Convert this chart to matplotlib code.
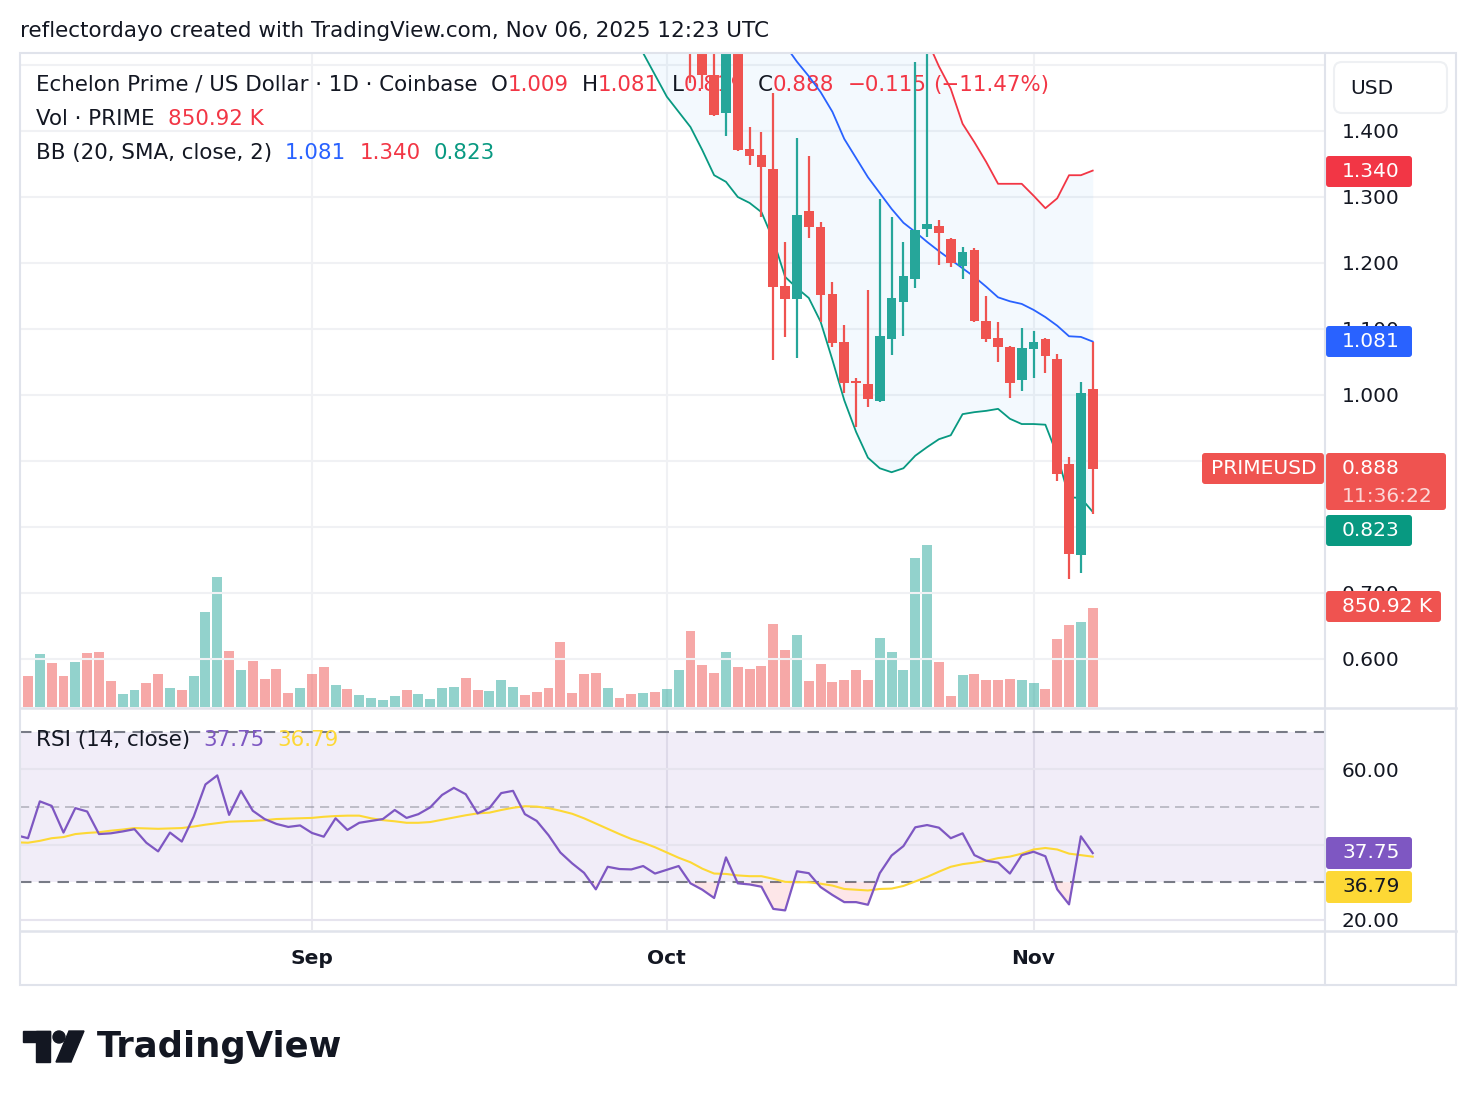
import numpy as np
import pandas as pd
import matplotlib
matplotlib.use("Agg")
import matplotlib.pyplot as plt
from matplotlib.patches import FancyBboxPatch, Rectangle, Circle, Polygon
from matplotlib.transforms import Affine2D

# ---------------- data ----------------
dates = pd.date_range("2025-08-07", "2025-11-06", freq="D")   # one bar per day
day0 = pd.Timestamp("2025-08-08")

volume_k = [275, 267, 456, 378, 267, 387, 464, 473, 224, 112, 146, 206, 284, 163, 146, 267,
            817, 1118, 482, 318, 396, 241, 327, 120, 163, 284, 344, 189, 155, 103, 77, 60,
            95, 146, 112, 69, 163, 172, 249, 146, 138, 232, 172, 103, 129, 163, 559, 120,
            284, 292, 163, 77, 112, 120, 129, 155, 318, 654, 361, 292, 473, 344, 327, 353,
            714, 490, 619, 224, 370, 215, 232, 318, 232, 593, 473, 318, 1281, 1393, 387, 95,
            275, 284, 232, 232, 241, 232, 206, 155, 585, 705, 731, 850.92]
volume_up = [1, 0, 1, 0, 0, 1, 0, 0, 0, 1, 1, 0, 0, 1, 0, 1,
             1, 1, 0, 1, 0, 0, 0, 0, 1, 0, 0, 1, 0, 1, 1, 1,
             1, 0, 1, 1, 1, 1, 0, 0, 1, 1, 1, 0, 0, 0, 0, 0,
             0, 0, 1, 0, 0, 1, 0, 1, 1, 0, 0, 0, 1, 0, 0, 0,
             0, 0, 1, 0, 0, 0, 0, 0, 0, 1, 1, 1, 1, 1, 0, 0,
             1, 0, 0, 0, 0, 1, 1, 0, 0, 0, 1, 0]

candle_start = "2025-10-03"
opens = [1.600, 1.530, 1.485, 1.427, 1.550, 1.373, 1.364, 1.342, 1.165, 1.145, 1.279, 1.255,
         1.153, 1.080, 1.021, 1.017, 0.991, 1.085, 1.141, 1.176, 1.251, 1.256, 1.236, 1.195,
         1.220, 1.112, 1.086, 1.073, 1.023, 1.070, 1.085, 1.055, 0.895, 0.758, 1.009]
highs = [1.640, 1.550, 1.530, 1.570, 1.560, 1.406, 1.398, 1.458, 1.232, 1.389, 1.362, 1.262,
         1.171, 1.106, 1.026, 1.159, 1.297, 1.270, 1.232, 1.505, 1.560, 1.265, 1.238, 1.224,
         1.222, 1.150, 1.111, 1.074, 1.102, 1.097, 1.086, 1.062, 0.906, 1.020, 1.081]
lows = [1.473, 1.464, 1.422, 1.392, 1.369, 1.348, 1.270, 1.053, 1.088, 1.056, 1.238, 1.111,
        1.073, 1.003, 0.952, 0.982, 0.989, 1.061, 1.089, 1.162, 1.239, 1.197, 1.194, 1.176,
        1.110, 1.080, 1.050, 0.995, 1.006, 1.026, 1.033, 0.870, 0.721, 0.730, 0.819]
closes = [1.530, 1.485, 1.424, 1.550, 1.371, 1.362, 1.345, 1.164, 1.145, 1.273, 1.255, 1.152,
          1.079, 1.018, 1.018, 0.994, 1.089, 1.147, 1.180, 1.250, 1.259, 1.245, 1.200, 1.217,
          1.112, 1.085, 1.073, 1.018, 1.071, 1.080, 1.059, 0.880, 0.759, 1.003, 0.888]

bb_start = "2025-09-28"
bb_upper = [2.06, 2.04, 2.02, 2.00, 1.98, 1.96, 1.94, 1.92, 1.90, 1.88, 1.86, 1.84, 1.82, 1.80,
            1.78, 1.76, 1.74, 1.72, 1.70, 1.68, 1.66, 1.64, 1.62, 1.60, 1.565, 1.538, 1.498,
            1.464, 1.411, 1.383, 1.353, 1.320, 1.320, 1.320, 1.302, 1.283, 1.298, 1.333, 1.333, 1.340]
bb_basis = [1.80, 1.78, 1.76, 1.74, 1.72, 1.70, 1.68, 1.66, 1.64, 1.62, 1.60, 1.58, 1.555, 1.530,
            1.505, 1.483, 1.459, 1.429, 1.388, 1.359, 1.330, 1.306, 1.282, 1.261, 1.247, 1.232,
            1.218, 1.205, 1.192, 1.179, 1.164, 1.148, 1.142, 1.138, 1.129, 1.118, 1.105, 1.089,
            1.088, 1.081]
bb_lower = [1.550, 1.518, 1.485, 1.452, 1.429, 1.406, 1.371, 1.333, 1.323, 1.300, 1.291, 1.277,
            1.235, 1.179, 1.162, 1.147, 1.111, 1.053, 0.992, 0.944, 0.905, 0.889, 0.883, 0.889,
            0.908, 0.921, 0.933, 0.939, 0.971, 0.974, 0.976, 0.979, 0.964, 0.956, 0.956, 0.955,
            0.909, 0.845, 0.844, 0.823]

rsi = [42.5, 41.7, 51.5, 50.3, 43.2, 49.7, 48.8, 42.8, 43.0, 43.5, 44.1, 40.5, 38.2, 43.2, 40.8,
       47.4, 56.0, 58.4, 47.9, 54.3, 49.0, 46.8, 45.5, 44.7, 45.1, 43.1, 42.1, 47.0, 43.9, 45.8,
       46.3, 46.8, 49.2, 47.1, 48.1, 49.9, 53.2, 55.1, 53.4, 48.3, 49.7, 53.7, 54.3, 48.1, 46.3,
       42.5, 37.9, 35.0, 32.5, 28.1, 34.1, 33.5, 33.4, 34.3, 32.3, 33.3, 34.3, 29.7, 28.0, 25.8,
       36.6, 29.7, 29.4, 28.8, 22.9, 22.5, 32.9, 32.4, 28.7, 26.6, 24.7, 24.7, 24.0, 32.4, 37.1,
       39.6, 44.6, 45.2, 44.5, 41.7, 43.0, 37.2, 35.7, 35.2, 32.3, 37.2, 38.1, 36.9, 28.1, 24.1,
       42.2, 37.75]
rsi_ma = [40.6, 40.5, 41.0, 41.7, 42.0, 42.8, 43.1, 43.3, 43.7, 44.0, 44.4, 44.3, 44.2, 44.3,
          44.4, 44.8, 45.3, 45.7, 46.1, 46.2, 46.3, 46.5, 46.8, 46.9, 47.0, 47.1, 47.4, 47.6,
          47.7, 47.7, 47.0, 46.5, 46.2, 45.8, 45.8, 46.0, 46.6, 47.2, 47.8, 48.3, 48.5, 49.2,
          49.8, 50.2, 50.1, 49.7, 49.0, 48.2, 47.0, 45.6, 44.2, 42.8, 41.5, 40.5, 39.3, 37.9,
          36.5, 35.3, 33.6, 32.3, 32.2, 31.8, 31.6, 31.6, 30.9, 30.1, 30.0, 30.0, 29.6, 29.1,
          28.2, 28.0, 27.8, 28.2, 28.3, 29.0, 30.2, 31.4, 32.8, 34.1, 34.8, 35.2, 35.7, 36.4,
          36.8, 37.6, 38.7, 39.1, 38.7, 37.6, 37.2, 36.79]

price_ticks = [0.6, 0.7, 1.0, 1.1, 1.2, 1.3, 1.4]      # 0.800 / 0.900 hidden under tags
grid_prices = [0.6, 0.7, 0.8, 0.9, 1.0, 1.1, 1.2, 1.3, 1.4, 1.5]
rsi_ticks = [20, 60]                                     # 40.00 hidden under tags
rsi_grid = [20, 40, 60]
month_ticks = ["2025-09-01", "2025-10-01", "2025-11-01"]
month_labels = ["Sep", "Oct", "Nov"]
countdown = "11:36:22"
title = "reflectordayo created with TradingView.com, Nov 06, 2025 12:23 UTC"

# ---------------- derived ----------------
def dayx(d):
    return (pd.Timestamp(d) - day0).days

x_all = np.array([(d - day0).days for d in dates])
xc = dayx(candle_start) + np.arange(len(opens))
xb = dayx(bb_start) + np.arange(len(bb_lower))
o, h, l, c = map(np.array, (opens, highs, lows, closes))
rsi_a = np.array(rsi)
rsi_ma_a = np.array(rsi_ma)

# ---------------- layout ----------------
W, H = 1476, 1106
fig = plt.figure(figsize=(W / 100, H / 100), dpi=100)
fig.patch.set_facecolor("white")
FONT = "DejaVu Sans"
plt.rcParams["font.family"] = FONT

def rect(lft, top, rgt, bot):
    return [lft / W, 1 - bot / H, (rgt - lft) / W, (bot - top) / H]

PANE_L, PANE_R = 20, 1325
PRICE_T, PRICE_B = 53, 707
RSI_T, RSI_B = 708, 930
BAR_PX, X_DAY0 = 11.83, 28
XLIM = ((PANE_L - X_DAY0) / BAR_PX, (PANE_R - X_DAY0) / BAR_PX)
PRICE_YLIM = (1 - (PRICE_B - 395) / 660, 1 + (395 - PRICE_T) / 660)
VOL_YLIM = (0, (PRICE_B - PRICE_T) * 8.6)
RSI_YLIM = (50 - (RSI_B - 807) / 3.76, 50 + (807 - RSI_T) / 3.76)

px = Affine2D().scale(1 / W, -1 / H).translate(0, 1) + fig.transFigure

DARK = "#131722"
UP, DOWN = "#26A69A", "#EF5350"
RED = "#F23645"
GRID = "#F0F1F4"
SEP = "#E0E3EB"

ax_v = fig.add_axes(rect(PANE_L, PRICE_T, PANE_R, PRICE_B), zorder=1)
ax_p = fig.add_axes(rect(PANE_L, PRICE_T, PANE_R, PRICE_B), zorder=2)
ax_r = fig.add_axes(rect(PANE_L, RSI_T, PANE_R, RSI_B), zorder=2)
ax_o = fig.add_axes([0, 0, 1, 1], zorder=10)
ax_o.set_xlim(0, W)
ax_o.set_ylim(H, 0)
ax_o.axis("off")
ax_o.patch.set_alpha(0)
ax_p.patch.set_alpha(0)

for ax in (ax_v, ax_p, ax_r):
    ax.set_xlim(*XLIM)
    for s in ax.spines.values():
        s.set_visible(False)
    ax.tick_params(length=0)
    ax.set_xticks([])

# volume pane + grid
ax_v.set_ylim(*VOL_YLIM)
ax_v.set_yticks([])
for gp in grid_prices:
    ax_p.axhline(gp, color=GRID, lw=1.5, zorder=0)
for m in month_ticks:
    ax_v.axvline(dayx(m), color=GRID, lw=1.5, zorder=0)
    ax_r.axvline(dayx(m), color="#E9E9EE", lw=1.5, zorder=0)
vcols = [(UP if u else DOWN) for u in volume_up]
ax_v.bar(x_all, volume_k, width=0.84, color=vcols, alpha=0.5, zorder=2, linewidth=0)

# price pane
ax_p.set_ylim(*PRICE_YLIM)
ax_p.yaxis.tick_right()
ax_p.set_yticks(price_ticks)
ax_p.set_yticklabels([f"{t:.3f}" for t in price_ticks])
ax_p.tick_params(axis="y", pad=12, labelsize=14.5, labelcolor=DARK)

ax_p.fill_between(xb, bb_lower, bb_upper, color="#2196F3", alpha=0.05, lw=0, zorder=1)
ax_p.plot(xb, bb_upper, color=RED, lw=1.3, zorder=2.5)
ax_p.plot(xb, bb_basis, color="#2962FF", lw=1.3, zorder=2.5)
ax_p.plot(xb, bb_lower, color="#089981", lw=1.3, zorder=2.5)

ccols = np.where(c >= o, UP, DOWN)
body_lo = np.minimum(o, c)
body_h = np.maximum(np.abs(c - o), 0.0025)
ax_p.vlines(xc, l, h, colors=ccols, lw=1.6, zorder=3)
ax_p.bar(xc, body_h, bottom=body_lo, width=0.82, color=ccols, zorder=3.2, linewidth=0)

# RSI pane
ax_r.set_ylim(*RSI_YLIM)
ax_r.patch.set_alpha(0)
ax_r.yaxis.tick_right()
ax_r.set_yticks(rsi_ticks)
ax_r.set_yticklabels([f"{t:.2f}" for t in rsi_ticks])
ax_r.tick_params(axis="y", pad=12, labelsize=14.5, labelcolor=DARK)
ax_r.axhspan(30, 70, color="#7E57C2", alpha=0.1, lw=0, zorder=0.5)
for t in rsi_grid:
    ax_r.axhline(t, color="#E6E4EE", lw=1.5, zorder=0.6)
ax_r.axhline(70, color="#787B86", lw=1.5, ls=(0, (5.5, 3.5)), zorder=1)
ax_r.axhline(30, color="#787B86", lw=1.5, ls=(0, (5.5, 3.5)), zorder=1)
ax_r.axhline(50, color="#787B86", lw=1.2, ls=(0, (5.5, 3.5)), alpha=0.5, zorder=1)
ax_r.fill_between(x_all, rsi_a, 30, where=rsi_a < 30, interpolate=True,
                  color=RED, alpha=0.12, lw=0, zorder=1.2)
ax_r.plot(x_all, rsi_ma_a, color="#FDD835", lw=1.5, zorder=2)
ax_r.plot(x_all, rsi_a, color="#7E57C2", lw=1.6, zorder=3)

# ---------------- texts ----------------
renderer = fig.canvas.get_renderer()

def seq(ax, x, y, parts, size, z):
    for txt, col, gap in parts:
        t = ax.text(x, y, txt, transform=px, color=col, fontsize=size,
                    ha="left", va="center", zorder=z)
        x += t.get_window_extent(renderer).width + gap

LS = 15.4
chg = c[-1] - c[-2]
pct = chg / c[-2] * 100
seq(ax_p, 36, 85, [("Echelon Prime / US Dollar · 1D · Coinbase", DARK, 13),
                   ("O", DARK, 0), (f"{o[-1]:.3f}", RED, 13),
                   ("H", DARK, 0), (f"{h[-1]:.3f}", RED, 13),
                   ("L", DARK, 0), (f"{l[-1]:.3f}", RED, 13),
                   ("C", DARK, 0), (f"{c[-1]:.3f}", RED, 13),
                   (f"{chg:+.3f}".replace("-", "\u2212"), RED, 7),
                   (f"({pct:+.2f}%)".replace("-", "\u2212"), RED, 0)], LS, 1.5)
seq(ax_p, 36, 119, [("Vol · PRIME", DARK, 13), (f"{volume_k[-1]:.2f} K", RED, 0)], LS, 1.5)
seq(ax_p, 36, 153, [("BB (20, SMA, close, 2)", DARK, 13),
                    (f"{bb_basis[-1]:.3f}", "#2962FF", 13),
                    (f"{bb_upper[-1]:.3f}", RED, 13),
                    (f"{bb_lower[-1]:.3f}", "#089981", 0)], LS, 1.5)
seq(ax_r, 36, 740, [("RSI (14, close)", DARK, 13),
                    (f"{rsi[-1]:.2f}", "#7E57C2", 13),
                    (f"{rsi_ma[-1]:.2f}", "#FDD835", 0)], LS, 4)

ax_o.text(20, 31, title, fontsize=15.5, color=DARK, ha="left", va="center")

for m, lab in zip(month_ticks, month_labels):
    xm = X_DAY0 + dayx(m) * BAR_PX
    ax_o.text(xm, 959, lab, fontsize=14.5, color=DARK, ha="center", va="center",
              fontweight="bold")

# frame / separators
ax_o.add_patch(Rectangle((20, 53), 1436, 932, fill=False, ec=SEP, lw=1.5))
ax_o.plot([1325, 1325], [53, 985], color=SEP, lw=1.5)
ax_o.plot([20, 1456], [707.5, 707.5], color=SEP, lw=1.8)
ax_o.plot([20, 1456], [930.5, 930.5], color=SEP, lw=1.8)

# USD box
ax_o.add_patch(FancyBboxPatch((1334, 62), 113, 51, boxstyle="round,pad=0,rounding_size=8",
                              fc="white", ec="#EEF0F3", lw=1.5))
ax_o.text(1350, 88, "USD", fontsize=14.5, color=DARK, ha="left", va="center")

def tag(x0, y0, x1, y1, color, lines, tcol="white", tx=1342):
    ax_o.add_patch(FancyBboxPatch((x0, y0), x1 - x0, y1 - y0,
                                  boxstyle="round,pad=0,rounding_size=3", fc=color, ec="none"))
    for (txt, ty, alpha) in lines:
        ax_o.text(tx, ty, txt, fontsize=14.5, color=tcol, alpha=alpha, ha="left", va="center")

tag(1326, 156, 1412, 187, RED, [(f"{bb_upper[-1]:.3f}", 171.5, 1)])
tag(1326, 326, 1412, 357, "#2962FF", [(f"{bb_basis[-1]:.3f}", 341.5, 1)])
tag(1326, 453, 1446, 510, DOWN, [(f"{c[-1]:.3f}", 469, 1), (countdown, 497, 0.78)])
tag(1202, 453, 1324, 484, DOWN, [("PRIMEUSD", 469, 1)], tx=1211)
tag(1326, 515, 1412, 546, "#089981", [(f"{bb_lower[-1]:.3f}", 530.5, 1)])
tag(1326, 591, 1441, 622, DOWN, [(f"{volume_k[-1]:.2f} K", 606.5, 1)])
tag(1326, 837, 1412, 869, "#7E57C2", [(f"{rsi[-1]:.2f}", 853, 1)])
tag(1326, 871, 1412, 903, "#FDD835", [(f"{rsi_ma[-1]:.2f}", 887, 1)], tcol=DARK)

# TradingView logo
ax_o.add_patch(Rectangle((23, 1031), 27, 11, color=DARK))
ax_o.add_patch(Rectangle((36, 1031), 14, 31, color=DARK))
ax_o.add_patch(Circle((59, 1037), 6, color=DARK))
ax_o.add_patch(Polygon([(69, 1031), (84, 1031), (71, 1062), (56, 1062)], closed=True, color=DARK))
ax_o.text(97, 1047, "TradingView", fontsize=25.5, fontweight="bold", color=DARK,
          ha="left", va="center")

fig.savefig("out.png", dpi=100, facecolor="white")
